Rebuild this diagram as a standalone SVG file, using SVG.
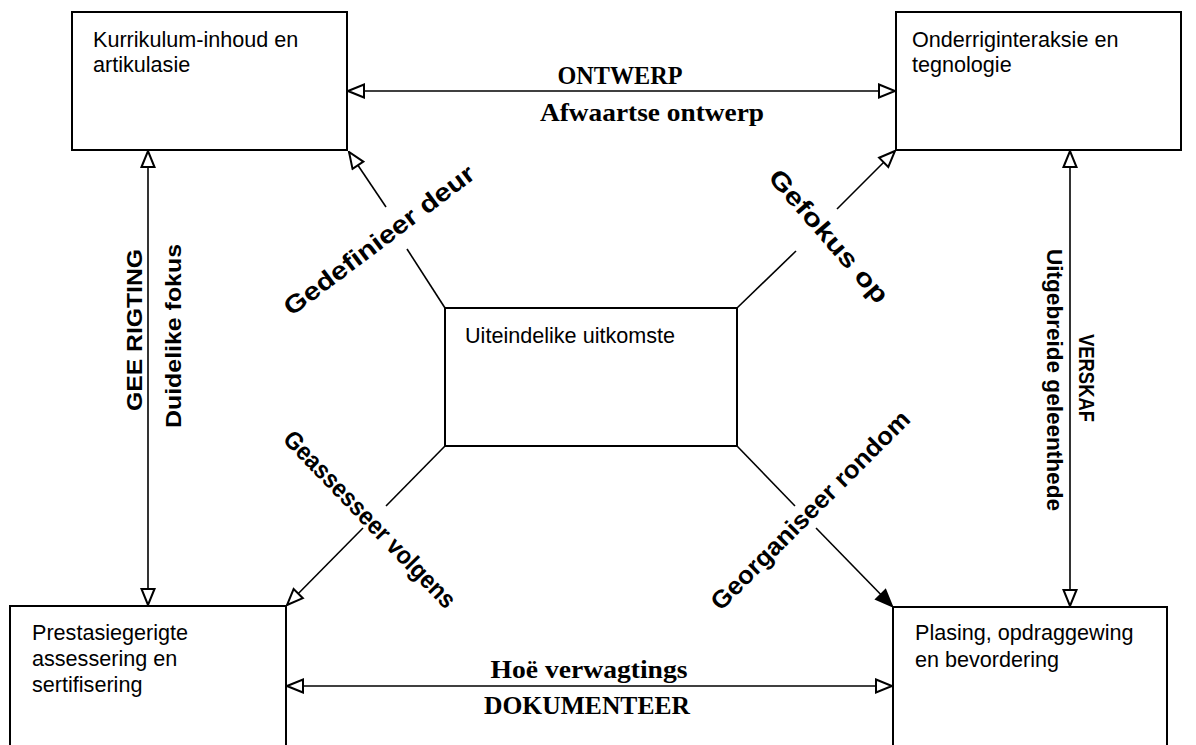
<svg xmlns="http://www.w3.org/2000/svg" width="1196" height="745" viewBox="0 0 1196 745">
  <style>
    .box { fill: #fff; stroke: #000; stroke-width: 2; }
    .node-text { font-family: "Liberation Sans", Arial, sans-serif; font-size: 21.6px; fill: #000; }
    .link { stroke: #000; stroke-width: 1.6; fill: none; }
    .serif-label { font-family: "Liberation Serif", "Times New Roman", serif; font-weight: bold; font-size: 25px; fill: #000; }
    .side-label { font-family: "Liberation Sans", Arial, sans-serif; font-weight: bold; font-size: 22px; fill: #000; }
    .diag-label { font-family: "Liberation Sans", Arial, sans-serif; font-weight: bold; font-size: 25px; fill: #000; }
  </style>
  <defs>
    <marker id="open-head" viewBox="0 0 19 16" refX="17.5" refY="8" markerWidth="19" markerHeight="16" markerUnits="userSpaceOnUse" orient="auto-start-reverse">
      <path d="M1.5,1.5 L17.5,8 L1.5,14.5 Z" fill="#fff" stroke="#000" stroke-width="2"/>
    </marker>
    <marker id="solid-head" viewBox="0 0 19 16" refX="17.5" refY="8" markerWidth="19" markerHeight="16" markerUnits="userSpaceOnUse" orient="auto">
      <path d="M1.5,1.5 L17.5,8 L1.5,14.5 Z" fill="#000" stroke="#000" stroke-width="2"/>
    </marker>
  </defs>

  <rect x="0" y="0" width="1196" height="745" fill="#fff"/>

  <!-- connectors -->
  <g id="connectors">
    <!-- outer ring of double-headed arrows -->
    <line class="link" x1="348" y1="91" x2="895" y2="91" marker-start="url(#open-head)" marker-end="url(#open-head)"/>
    <line class="link" x1="287" y1="686" x2="892" y2="686" marker-start="url(#open-head)" marker-end="url(#open-head)"/>
    <line class="link" x1="148" y1="151" x2="148" y2="605" marker-start="url(#open-head)" marker-end="url(#open-head)"/>
    <line class="link" x1="1070" y1="151" x2="1070" y2="606" marker-start="url(#open-head)" marker-end="url(#open-head)"/>

    <!-- diagonals from the centre box, broken where the labels cross -->
    <line class="link" x1="445" y1="308" x2="407" y2="249"/>
    <line class="link" x1="386" y1="207" x2="349" y2="152" marker-end="url(#open-head)"/>

    <line class="link" x1="737" y1="308" x2="796" y2="251"/>
    <line class="link" x1="837" y1="209" x2="895" y2="151" marker-end="url(#open-head)"/>

    <line class="link" x1="445" y1="446" x2="386" y2="506"/>
    <line class="link" x1="363" y1="528" x2="287" y2="605" marker-end="url(#open-head)"/>

    <line class="link" x1="737" y1="446" x2="795" y2="506"/>
    <line class="link" x1="816" y1="528" x2="892" y2="606" marker-end="url(#solid-head)"/>
  </g>

  <!-- connector labels -->
  <g id="labels">
    <text class="serif-label" x="620" y="84" text-anchor="middle" textLength="125" lengthAdjust="spacingAndGlyphs">ONTWERP</text>
    <text class="serif-label" x="652" y="121" text-anchor="middle" textLength="224" lengthAdjust="spacingAndGlyphs">Afwaartse ontwerp</text>
    <text class="serif-label" x="589" y="678" text-anchor="middle" textLength="197" lengthAdjust="spacingAndGlyphs">Hoë verwagtings</text>
    <text class="serif-label" x="587" y="714" text-anchor="middle" textLength="206" lengthAdjust="spacingAndGlyphs">DOKUMENTEER</text>

    <text class="side-label" transform="translate(142,330) rotate(-90)" text-anchor="middle" textLength="162" lengthAdjust="spacingAndGlyphs">GEE RIGTING</text>
    <text class="side-label" transform="translate(181,336) rotate(-90)" text-anchor="middle" textLength="184" lengthAdjust="spacingAndGlyphs">Duidelike fokus</text>
    <text class="side-label" transform="translate(1079,378) rotate(90)" text-anchor="middle" textLength="88" lengthAdjust="spacingAndGlyphs">VERSKAF</text>
    <text class="side-label" transform="translate(1047,380) rotate(90)" text-anchor="middle" textLength="262" lengthAdjust="spacingAndGlyphs">Uitgebreide geleenthede</text>

    <text class="diag-label" transform="translate(379,240) rotate(-37)" text-anchor="middle" dy="0.35em" textLength="232" lengthAdjust="spacingAndGlyphs">Gedefinieer deur</text>
    <text class="diag-label" transform="translate(829,236) rotate(49)" text-anchor="middle" dy="0.35em" textLength="168" lengthAdjust="spacingAndGlyphs">Gefokus op</text>
    <text class="diag-label" transform="translate(370,519) rotate(46)" text-anchor="middle" dy="0.35em" textLength="236" lengthAdjust="spacingAndGlyphs">Geassesseer volgens</text>
    <text class="diag-label" transform="translate(810,510) rotate(-45)" text-anchor="middle" dy="0.35em" textLength="270" lengthAdjust="spacingAndGlyphs">Georganiseer rondom</text>
  </g>

  <!-- nodes -->
  <g id="node-curriculum">
    <rect class="box" x="72" y="12" width="275" height="138"/>
    <text class="node-text" x="93" y="47">Kurrikulum-inhoud en</text>
    <text class="node-text" x="93" y="72">artikulasie</text>
  </g>

  <g id="node-instruction">
    <rect class="box" x="896" y="12" width="285" height="138"/>
    <text class="node-text" x="912" y="47">Onderriginteraksie en</text>
    <text class="node-text" x="912" y="72">tegnologie</text>
  </g>

  <g id="node-outcomes">
    <rect class="box" x="445" y="308" width="292" height="138"/>
    <text class="node-text" x="465" y="343">Uiteindelike uitkomste</text>
  </g>

  <g id="node-assessment">
    <rect class="box" x="10" y="606" width="276" height="160"/>
    <text class="node-text" x="32" y="640">Prestasiegerigte</text>
    <text class="node-text" x="32" y="666">assessering en</text>
    <text class="node-text" x="32" y="692">sertifisering</text>
  </g>

  <g id="node-placement">
    <rect class="box" x="893" y="607" width="274" height="160"/>
    <text class="node-text" x="915" y="640">Plasing, opdraggewing</text>
    <text class="node-text" x="915" y="667">en bevordering</text>
  </g>
</svg>
